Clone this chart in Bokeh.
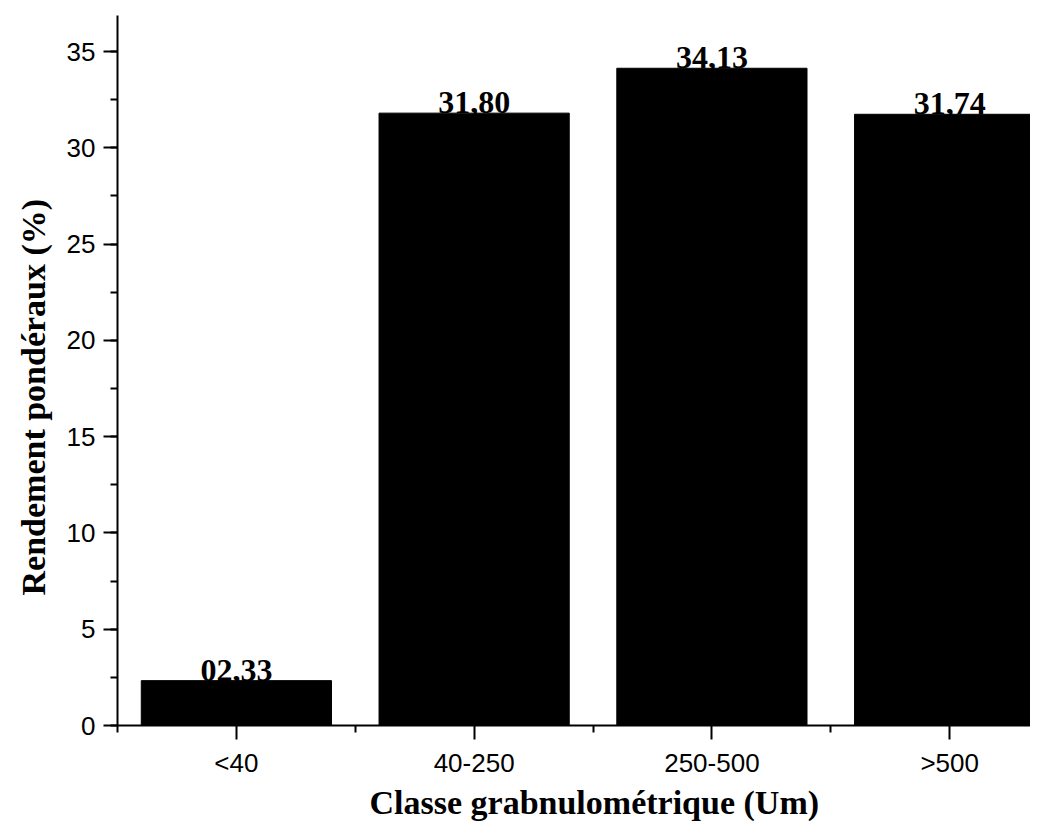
from bokeh.plotting import figure
from bokeh.models import Range1d, FixedTicker, SingleIntervalTicker, Title
from bokeh.embed import file_html
from bokeh.resources import INLINE
from bokeh.core.properties import value

categories = ["<40", "40-250", "250-500", ">500"]
rendement = [2.33, 31.80, 34.13, 31.74]
bar_labels = ["02,33", "31,80", "34,13", "31,74"]
x_title = "Classe grabnulométrique (Um)"
y_title = "Rendement pondéraux (%)"

positions = list(range(1, len(categories) + 1))
minor_x = [i + 0.5 for i in range(len(categories) + 1)]

p = figure(width=1030, height=821, output_backend="svg", toolbar_location=None,
           title=None,
           x_range=Range1d(0.5, 4.34), y_range=Range1d(0, 36.87),
           min_border_left=116, min_border_right=0, min_border_top=15,
           min_border_bottom=96)
p.outline_line_color = None
p.xgrid.visible = False
p.ygrid.visible = False
p.background_fill_color = "white"
p.border_fill_color = "white"

p.vbar(x=positions, top=rendement, width=0.8, fill_color="black", line_color="black")
p.text(x=positions, y=rendement, text=bar_labels, text_align="center",
       text_baseline="bottom", text_font=value("Liberation Serif"),
       text_font_style="bold", text_font_size="32px", text_color="black")

for ax in (p.xaxis[0], p.yaxis[0]):
    ax.axis_line_width = 2
    ax.axis_line_color = "black"
    ax.major_tick_line_width = 2
    ax.minor_tick_line_width = 2
    ax.major_tick_in = 0
    ax.minor_tick_in = 0
    ax.major_tick_out = 14
    ax.minor_tick_out = 7
    ax.major_label_text_font = "Liberation Sans"
    ax.major_label_text_font_size = "26px"
    ax.major_label_text_color = "black"
    ax.major_label_standoff = 8

p.xaxis.ticker = FixedTicker(ticks=positions, minor_ticks=minor_x)
p.xaxis.major_label_overrides = {k: v for k, v in zip(positions, categories)}
p.yaxis.ticker = SingleIntervalTicker(interval=5, num_minor_ticks=2)

p.add_layout(Title(text=x_title, align="left", offset=252, standoff=2,
                   text_font="Liberation Serif", text_font_style="bold",
                   text_font_size="34px", text_color="black"), "below")
p.add_layout(Title(text=y_title, align="left", offset=130, standoff=24,
                   text_font="Liberation Serif", text_font_style="bold",
                   text_font_size="34px", text_color="black"), "left")

open("out.html", "w").write(file_html(p, INLINE))
